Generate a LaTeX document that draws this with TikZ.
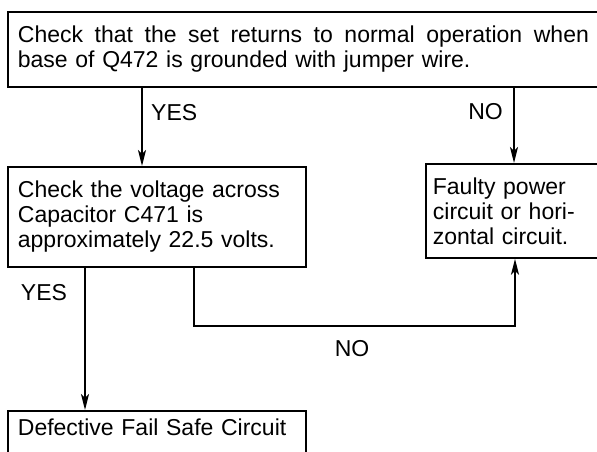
\documentclass[tikz,border=0pt]{standalone}
\usepackage{fontspec}
\setmainfont{Liberation Sans}
\usetikzlibrary{arrows.meta}
\begin{document}
\begin{tikzpicture}[x=1pt,y=-1pt,
  every node/.style={font=\fontsize{23}{25}\selectfont},
  box/.style={draw, line width=1.8pt, rectangle, anchor=north west, align=left, inner ysep=0pt},
  lbl/.style={inner sep=0pt},
  arr/.style={line width=1.8pt, -{Stealth[length=16pt,width=8pt,inset=4pt]}}]
\useasboundingbox (0,0) rectangle (597,452);
\node[box, minimum width=600pt, minimum height=75pt, inner xsep=10pt, text width=580pt] (top) at (7,11)
  {\makebox[571pt][l]{Check\hfill that\hfill the\hfill set\hfill returns\hfill to\hfill normal\hfill operation\hfill when}\\base of Q472 is grounded with jumper wire.};
\node[box, minimum width=298pt, minimum height=100pt, inner xsep=10pt, text width=278pt] (box2) at (7,166)
  {Check the voltage across\\Capacitor C471 is\\approximately 22.5 volts.};
\node[box, minimum width=180pt, minimum height=94pt, inner xsep=7pt, text width=166pt] (box3) at (425,163)
  {Faulty power\\circuit or hori-\\zontal circuit.};
\node[box, minimum width=298pt, inner xsep=10pt, inner ysep=8pt, text width=278pt, text height=17pt, text depth=60pt] (bot) at (7,410)
  {Defective Fail Safe Circuit};
\draw[arr] ([xshift=135pt]top.south west) -- ([xshift=135pt]top.south west |- box2.north);
\draw[arr] ([xshift=89pt]box3.north west |- top.south) -- ([xshift=89pt]box3.north west);
\draw[arr] ([xshift=78pt]box2.south west) -- ([xshift=78pt]bot.north west);
\coordinate (turn) at (194,326);
\draw[arr] ([xshift=187pt]box2.south west) -- (turn) -| ([xshift=90pt]box3.south west);
\node[lbl, anchor=west] (yes1) at (151,113) {YES};
\node[lbl, anchor=east] (no1) at (503,112) {NO};
\node[lbl] (yes2) at (44,293) {YES};
\node[lbl] (no2) at (352,349) {NO};
\end{tikzpicture}
\end{document}
